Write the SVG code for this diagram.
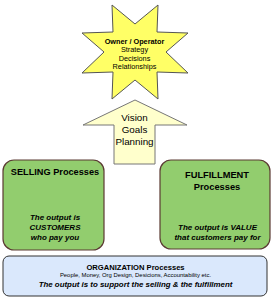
<svg xmlns="http://www.w3.org/2000/svg" width="280" height="300" viewBox="0 0 280 300">
<style>
text{font-family:"Liberation Sans",Arial,sans-serif;fill:#000;text-anchor:middle}
.b{font-weight:bold}
.bi{font-weight:bold;font-style:italic}
.box{stroke:#5b3a33;stroke-width:1.2;fill:#92cd6e}
</style>
<rect width="280" height="300" fill="#fff"/>
<g id="owner">
<polygon points="112,5 135,24 158,5 157,32 188,33 166,52 188,73 157,72 158,99 135,80 112,99 113,72 82,73 104,52 82,33 113,32" fill="#ffff66" stroke="#555" stroke-width="1"/>
<text class="b" x="134.5" y="44" font-size="7.3">Owner / Operator</text>
<text x="134.5" y="52" font-size="7.3">Strategy</text>
<text x="134.5" y="60.5" font-size="7.3">Decisions</text>
<text x="134.5" y="68.5" font-size="7.3">Relationships</text>
</g>
<g id="connectors">
<g id="vision">
<polygon points="135,100 187,125 155,125 155,164 114,164 114,125 83,125" fill="#ffffcc" stroke="#777" stroke-width="1"/>
<text x="134.5" y="121" font-size="9.8">Vision</text>
<text x="134.5" y="133" font-size="9.8">Goals</text>
<text x="134.5" y="145" font-size="9.8">Planning</text>
</g>
</g>
<g id="selling">
<rect class="box" x="3" y="160" width="101" height="90" rx="11"/>
<text class="b" x="55" y="175" font-size="9.2">SELLING Processes</text>
<text class="bi" x="55" y="220" font-size="8">The output is</text>
<text class="bi" x="55" y="230" font-size="8">CUSTOMERS</text>
<text class="bi" x="55" y="239.5" font-size="8">who pay you</text>
</g>
<g id="fulfillment">
<rect class="box" x="160" y="160" width="110" height="89" rx="11"/>
<text class="b" x="217" y="178" font-size="9.3">FULFILLMENT</text>
<text class="b" x="217" y="189.5" font-size="9.3">Processes</text>
<text class="bi" x="217.5" y="230" font-size="8">The output is VALUE</text>
<text class="bi" x="217.5" y="239.5" font-size="8">that customers pay for</text>
</g>
<g id="organization">
<rect x="3" y="256" width="264" height="40" rx="6" fill="#dae8fc" stroke="#333" stroke-width="1"/>
<text class="b" x="135.5" y="269.5" font-size="7.6">ORGANIZATION Processes</text>
<text x="135.5" y="277" font-size="5.9">People, Money, Org Design, Desicions, Accountability etc.</text>
<text class="bi" x="135.5" y="287" font-size="7.9">The output is to support the selling &amp; the fulfillment</text>
</g>
</svg>
